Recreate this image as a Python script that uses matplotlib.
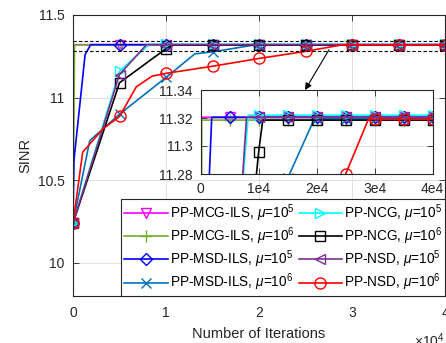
import numpy as np
import matplotlib
matplotlib.use("Agg")
import matplotlib.pyplot as plt

plt.rcParams['font.family'] = ['Liberation Sans', 'DejaVu Sans']
plt.rcParams['mathtext.fontset'] = 'custom'
plt.rcParams['mathtext.rm'] = 'Liberation Sans'
plt.rcParams['mathtext.it'] = 'Liberation Sans:italic'

# marker iterations
marks = [0, 5000, 10000, 15000, 20000, 25000, 30000, 35000, 40000]

# series (iteration, SINR)
mcg5_x = [0, 30, 5000, 10000, 15000, 20000, 25000, 30000, 35000, 40000]
mcg5_y = [10.24, 11.3205, 11.3205, 11.3205, 11.3205, 11.3205, 11.3205, 11.3205, 11.3205, 11.3205]

mcg6_x = [0, 170, 5000, 10000, 15000, 20000, 25000, 30000, 35000, 40000]
mcg6_y = [10.24, 11.3185, 11.3185, 11.3185, 11.3185, 11.3185, 11.3185, 11.3185, 11.3185, 11.3185]

msd5_x = [0, 100, 1300, 1900, 5000, 10000, 15000, 20000, 25000, 30000, 35000, 40000]
msd5_y = [10.24, 10.62, 11.26, 11.3205, 11.3205, 11.3205, 11.3205, 11.3205, 11.3205, 11.3205, 11.3205, 11.3205]

msd6_x = [0, 0, 1800, 3200, 5000, 10000, 13100, 15000, 19600, 20000, 25000, 30000, 35000, 40000]
msd6_y = [9.0, 10.24, 10.74, 10.81, 10.90, 11.122, 11.265, 11.277, 11.3195, 11.3195, 11.3195, 11.3195, 11.3195, 11.3195]

ncg5_x = [0, 5000, 8200, 10000, 15000, 20000, 25000, 30000, 35000, 40000]
ncg5_y = [10.24, 11.16, 11.322, 11.322, 11.322, 11.322, 11.322, 11.322, 11.322, 11.322]

ncg6_x = [0, 5000, 10000, 10700, 15000, 20000, 25000, 30000, 35000, 40000]
ncg6_y = [10.24, 11.09, 11.296, 11.3185, 11.3185, 11.3185, 11.3185, 11.3185, 11.3185, 11.3185]

nsd5_x = [0, 5000, 7900, 10000, 15000, 20000, 25000, 30000, 35000, 40000]
nsd5_y = [10.24, 11.14, 11.3205, 11.3205, 11.3205, 11.3205, 11.3205, 11.3205, 11.3205, 11.3205]

nsd6_x = [0, 1040, 3200, 5000, 6800, 8500, 10000, 15000, 20000, 25000, 28900, 30000, 35000, 40000]
nsd6_y = [10.24, 10.67, 10.81, 10.886, 11.065, 11.13, 11.147, 11.19, 11.237, 11.28, 11.319, 11.319, 11.319, 11.319]

labels = [r'PP-MCG-ILS, $\mu$=10$^5$', r'PP-MCG-ILS, $\mu$=10$^6$',
          r'PP-MSD-ILS, $\mu$=10$^5$', r'PP-MSD-ILS, $\mu$=10$^6$',
          r'PP-NCG, $\mu$=10$^5$', r'PP-NCG, $\mu$=10$^6$',
          r'PP-NSD, $\mu$=10$^5$', r'PP-NSD, $\mu$=10$^6$']
series = [(mcg5_x, mcg5_y), (mcg6_x, mcg6_y), (msd5_x, msd5_y), (msd6_x, msd6_y),
          (ncg5_x, ncg5_y), (ncg6_x, ncg6_y), (nsd5_x, nsd5_y), (nsd6_x, nsd6_y)]
colors = ['#FF00FF', '#77AC30', '#0000FF', '#0072BD', '#00FFFF', '#000000', '#7E2F8E', '#FF0000']
markers = ['v', '+', 'D', 'x', '>', 's', '<', 'o']
msizes = [7, 8, 6.5, 7, 7, 6.5, 7, 8]

fig = plt.figure(figsize=(4.46, 3.43), dpi=100)
ax = fig.add_axes([73/446, 1-296/343, 372/446, 281/343])
ins = fig.add_axes([200.7/446, 1-174/343, 232/446, 84/343])


def mark_idx(x):
    idx = []
    for i in range(len(x)):
        if x[i] in marks and (i+1 == len(x) or x[i+1] != x[i]):
            idx.append(i)
    return idx


def style(a):
    for s in a.spines.values():
        s.set_color('#262626')
        s.set_linewidth(0.8)
    a.tick_params(direction='in', top=True, right=True, length=4, width=0.6,
                  colors='#262626', labelsize=10)
    a.tick_params(axis='x', pad=7)
    a.tick_params(axis='y', pad=6)
    a.grid(True, color='#e0e0e0', lw=0.7)
    a.set_axisbelow(True)


handles = []
for (x, y), lab, c, m, ms in zip(series, labels, colors, markers, msizes):
    for a in (ax, ins):
        h, = a.plot(x, y, color=c, lw=1.2, marker=m, markersize=ms,
                    markerfacecolor='none', markeredgecolor=c, markeredgewidth=1.0,
                    markevery=mark_idx(x), label=lab, clip_on=True)
        if a is ax:
            handles.append(h)

# zoom region indicator
ax.axhline(11.34, color='k', ls=(0, (3, 2)), lw=0.8)
ax.axhline(11.28, color='k', ls=(0, (3, 2)), lw=0.8)
ax.annotate('', xy=(24950, 11.046), xytext=(27530, 11.29),
            arrowprops=dict(arrowstyle='-|>', color='k', lw=0.8,
                            mutation_scale=10, shrinkA=0, shrinkB=0))

style(ax)
ax.set_xlim(0, 40000)
ax.set_ylim(9.8, 11.5)
ax.set_xticks([0, 10000, 20000, 30000, 40000])
ax.set_xticklabels(['0', '1', '2', '3', '4'])
ax.set_yticks([10, 10.5, 11, 11.5])
ax.set_yticklabels(['10', '10.5', '11', '11.5'])
ax.set_xlabel('Number of Iterations', fontsize=10.5, color='#262626', labelpad=5)
ax.set_ylabel('SINR', fontsize=10.5, color='#262626', labelpad=4)
ax.text(1.0, -0.125, r'$\times$10$^4$', transform=ax.transAxes, ha='right', va='top',
        fontsize=10, color='#262626')

style(ins)
ins.set_xlim(0, 40000)
ins.set_ylim(11.28, 11.34)
ins.set_xticks([0, 10000, 20000, 30000, 40000])
ins.set_xticklabels(['0', '1e4', '2e4', '3e4', '4e4'])
ins.set_yticks([11.28, 11.3, 11.32, 11.34])
ins.set_yticklabels(['11.28', '11.3', '11.32', '11.34'])
ins.tick_params(axis='x', pad=6)
ins.set_facecolor('white')

leg = ax.legend(handles=handles, ncol=2, loc='lower right', fontsize=9.8,
                frameon=True, fancybox=False, framealpha=1, edgecolor='#262626',
                borderaxespad=0, handlelength=3.2, handletextpad=0.15,
                columnspacing=0.3, labelspacing=0.12, borderpad=0.2)
leg.get_frame().set_linewidth(0.8)
leg.set_zorder(10)

fig.savefig('out.png', dpi=100)
